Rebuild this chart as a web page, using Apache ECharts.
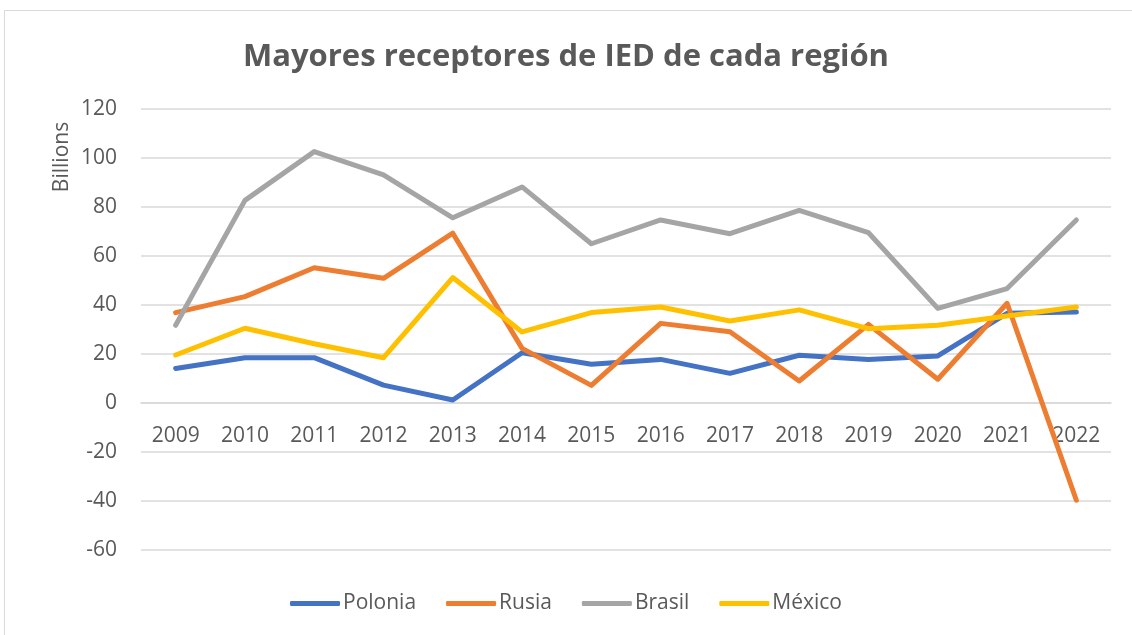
<!DOCTYPE html>
<html>
<head>
<meta charset="utf-8">
<script src="https://cdn.jsdelivr.net/npm/echarts@6/dist/echarts.min.js"></script>
<style>
    html, body { margin: 0; padding: 0; background: #fff; }
    #chart { width: 1132px; height: 635px; }
</style>
</head>
<body>
<div id="chart"></div>
<script>
    // años y series (miles de millones)
    const years = ['2009', '2010', '2011', '2012', '2013', '2014', '2015', '2016', '2017', '2018', '2019', '2020', '2021', '2022'];
    const polonia = [14.1, 18.5, 18.5, 7.3, 1.2, 20.5, 15.8, 17.8, 12.1, 19.5, 17.8, 19.2, 36.6, 37.1];
    const rusia = [36.9, 43.4, 55.2, 50.9, 69.3, 22.3, 7.2, 32.5, 29.1, 9.0, 32.1, 9.7, 40.7, -39.7];
    const brasil = [31.7, 82.7, 102.6, 93.1, 75.6, 88.2, 65.0, 74.7, 69.1, 78.6, 69.5, 38.6, 46.7, 74.7];
    const mexico = [19.6, 30.5, 24.2, 18.5, 51.2, 29.0, 36.9, 39.2, 33.5, 38.0, 30.3, 31.7, 35.5, 39.2];

    const font = 'Open Sans';
    const grey = '#595959';

    const myChart = echarts.init(document.getElementById('chart'));

    function line(name, data, color) {
        return {
            name: name,
            type: 'line',
            data: data,
            symbol: 'none',
            color: color,
            lineStyle: { color: color, width: 5, cap: 'round', join: 'round' }
        };
    }

    const option = {
        animation: false,
        title: {
            text: 'Mayores receptores de IED de cada región',
            left: 'center',
            top: 37,
            textStyle: { fontFamily: font, fontSize: 31, fontWeight: 'bold', color: grey }
        },
        graphic: [
            {
                type: 'rect',
                shape: { x: 4.5, y: 10.5, width: 1200, height: 700 },
                style: { fill: 'none', stroke: '#d9d9d9', lineWidth: 1 },
                silent: true
            },
            {
                type: 'text',
                x: 62,
                y: 157,
                rotation: Math.PI / 2,
                style: {
                    text: 'Billions',
                    fontFamily: font,
                    fontSize: 21,
                    fill: grey,
                    textAlign: 'center',
                    textVerticalAlign: 'middle'
                }
            }
        ],
        legend: {
            bottom: 16,
            left: 'center',
            itemWidth: 50,
            itemHeight: 5,
            itemGap: 30,
            icon: 'roundRect',
            textStyle: { fontFamily: font, fontSize: 21, color: grey, padding: [0, 0, 0, -2] },
            data: ['Polonia', 'Rusia', 'Brasil', 'México']
        },
        grid: { left: 141, right: 21, top: 109, bottom: 85 },
        xAxis: {
            type: 'category',
            data: years,
            boundaryGap: true,
            offset: -147,
            axisLine: { onZero: false, lineStyle: { color: '#d9d9d9', width: 1.5 } },
            axisTick: { show: false },
            axisLabel: { fontFamily: font, fontSize: 21, color: grey, margin: 23 }
        },
        yAxis: {
            type: 'value',
            min: -60,
            max: 120,
            interval: 20,
            axisLine: { show: false },
            axisTick: { show: false },
            axisLabel: { fontFamily: font, fontSize: 21, color: grey, margin: 24 },
            splitLine: { lineStyle: { color: '#d9d9d9', width: 1.5 } }
        },
        series: [
            line('Polonia', polonia, '#4472C4'),
            line('Rusia', rusia, '#ED7D31'),
            line('Brasil', brasil, '#A5A5A5'),
            line('México', mexico, '#FFC000')
        ]
    };

    myChart.setOption(option);
    window.onresize = () => {
        myChart.resize();
    };
</script>
</body>
</html>
